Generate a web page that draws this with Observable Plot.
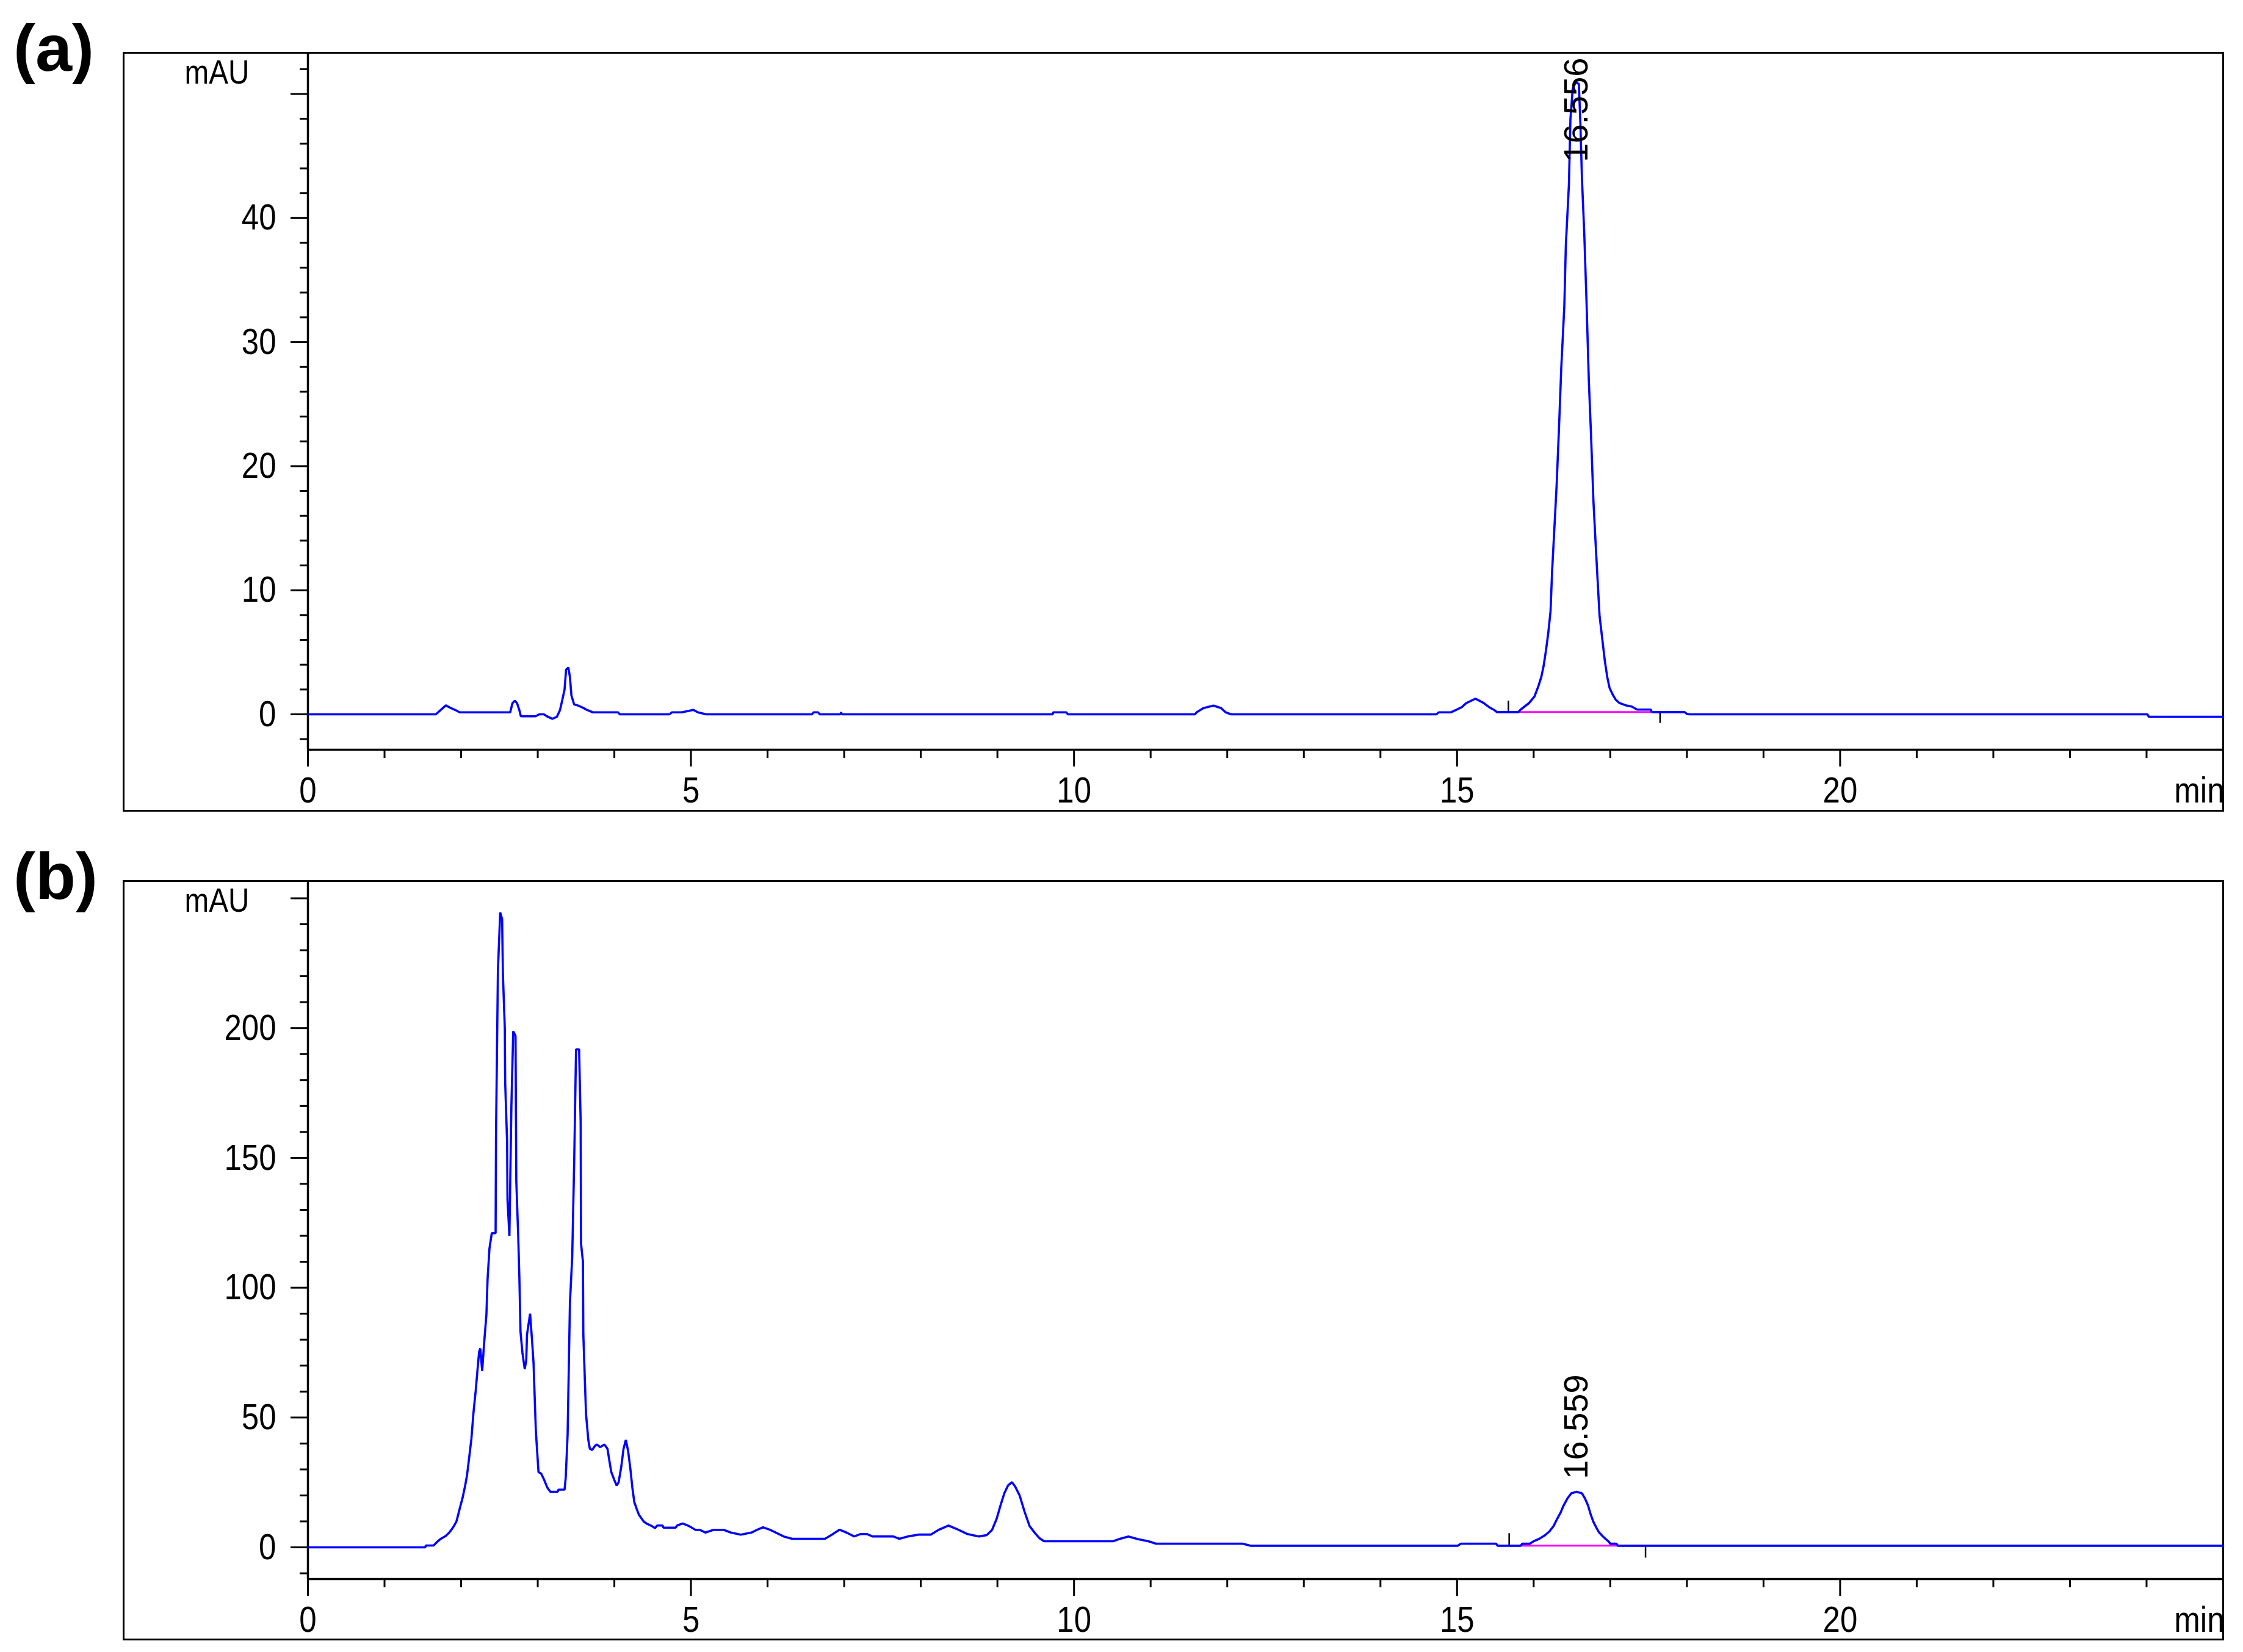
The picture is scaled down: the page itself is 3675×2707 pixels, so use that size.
<!DOCTYPE html>
<html><head><meta charset="utf-8">
<script src="https://cdn.jsdelivr.net/npm/d3@7"></script>
<script src="https://cdn.jsdelivr.net/npm/@observablehq/plot@0.6"></script>
<style>
html,body{margin:0;padding:0;background:#fff;}
#root{position:relative;width:3675px;height:2707px;overflow:hidden;background:#fff;}
.box{position:absolute;border:3px solid #000;box-sizing:border-box;}
.tag{position:absolute;font-family:"Liberation Sans",Arial,sans-serif;font-weight:bold;font-size:108px;line-height:108px;color:#000;}
</style></head><body><div id="root"></div>
<script>
// ---------- Panel (a) chromatogram ----------
const timeA = [0,1.67,1.80,1.86,1.93,1.98,2.64,2.67,2.70,2.73,2.76,2.78,2.97,3.02,3.08,3.12,3.19,3.25,3.29,3.32,3.35,3.37,3.40,3.42,3.44,3.475,3.52,3.58,3.64,3.72,4.05,4.07,4.72,4.75,4.88,5.03,5.09,5.20,6.58,6.60,6.66,6.68,6.95,6.96,6.97,9.72,9.73,9.90,9.92,11.58,11.60,11.69,11.82,11.92,11.98,12.05,14.73,14.76,14.92,14.99,15.06,15.12,15.24,15.35,15.42,15.49,15.52,15.80,15.83,15.94,16.01,16.06,16.10,16.13,16.16,16.19,16.22,16.24,16.27,16.30,16.33,16.36,16.40,16.42,16.46,16.48,16.51,16.55,16.59,16.61,16.63,16.66,16.69,16.72,16.75,16.78,16.81,16.84,16.86,16.90,16.93,16.96,16.99,17.03,17.07,17.12,17.20,17.28,17.35,17.53,17.54,17.97,18.00,18.03,24.01,24.03,25];
const sigA  = [0,0,0.72,0.52,0.33,0.16,0.16,0.9,1.1,0.9,0.33,-0.16,-0.16,0,0,-0.16,-0.36,-0.2,0.33,1.15,2.0,3.6,3.77,3.0,1.5,0.8,0.72,0.56,0.36,0.16,0.16,0,0,0.16,0.16,0.36,0.16,0,0,0.16,0.16,0,0,0.16,0,0,0.16,0.16,0,0,0.16,0.5,0.7,0.5,0.16,0,0,0.16,0.16,0.36,0.57,0.9,1.26,0.9,0.57,0.33,0.18,0.18,0.38,0.91,1.43,2.24,3.02,3.9,5.13,6.53,8.3,11.45,14.96,18.5,23.0,27.9,32.9,37.8,42.7,48.0,50.45,50.95,50.8,47.6,43.2,38.8,33.2,26.9,22.3,17.2,13.6,10.2,7.95,5.83,4.25,3.02,2.14,1.61,1.19,0.91,0.73,0.63,0.38,0.38,0.18,0.18,0.03,0,0,-0.2,-0.2];

// ---------- Panel (b) chromatogram ----------
const timeB = [0,1.53,1.54,1.64,1.68,1.73,1.80,1.845,1.876,1.91,1.94,1.96,1.99,2.02,2.05,2.076,2.10,2.134,2.16,2.19,2.217,2.235,2.25,2.275,2.296,2.33,2.345,2.37,2.40,2.45,2.455,2.48,2.51,2.535,2.545,2.57,2.575,2.60,2.605,2.63,2.656,2.68,2.71,2.72,2.745,2.76,2.775,2.80,2.83,2.85,2.86,2.90,2.925,2.945,2.96,2.975,2.99,3.01,3.045,3.085,3.125,3.165,3.26,3.27,3.35,3.365,3.39,3.42,3.45,3.476,3.50,3.54,3.56,3.565,3.59,3.595,3.63,3.66,3.68,3.71,3.75,3.775,3.815,3.87,3.91,3.935,3.96,4.0,4.03,4.055,4.09,4.12,4.15,4.18,4.21,4.235,4.26,4.29,4.32,4.355,4.385,4.43,4.49,4.53,4.56,4.63,4.64,4.80,4.82,4.89,4.96,5.01,5.06,5.12,5.19,5.29,5.43,5.52,5.65,5.79,5.865,5.94,6.03,6.12,6.21,6.32,6.75,6.84,6.94,7.03,7.13,7.21,7.30,7.37,7.64,7.72,7.83,7.97,8.13,8.23,8.36,8.49,8.61,8.76,8.86,8.93,8.99,9.04,9.09,9.14,9.19,9.23,9.29,9.355,9.42,9.49,9.55,9.61,10.51,10.58,10.71,10.84,10.97,11.07,12.2,12.3,15.01,15.05,15.51,15.53,15.83,15.85,15.95,16.0,16.08,16.15,16.21,16.26,16.30,16.35,16.39,16.44,16.49,16.56,16.63,16.67,16.71,16.745,16.78,16.82,16.85,16.90,16.94,16.98,17.0,17.08,17.1,25];
const sigB  = [0,0,0.7,0.7,1.9,3.2,4.4,5.7,6.9,8.4,10.1,12.4,15.9,19.2,23.4,27.6,33.4,41.8,51.5,60.3,69.5,75.4,76.6,67.9,77.1,89.7,103.2,115.2,121,121,158,222,244.5,242,221,200,179,156,134,120,170,198.8,197,141,120,104,83,75,68.7,72,82,90,80,71,58,45,38,29,28.4,25.9,23.0,21.4,21.4,22.2,22.2,26.8,43.5,94,112,149,191.8,191.8,164,117,110,82,51.4,41.4,38,37.5,39.2,39.6,38.6,39.6,38.0,33.4,29,25.9,23.8,25,31,38,41.4,37,30,23,17.5,14.9,12.6,11.1,9.9,9.0,8.2,7.4,8.4,8.4,7.6,7.6,8.4,9.2,8.4,7.6,6.7,6.7,5.7,6.7,6.7,5.7,4.9,5.7,6.8,7.7,6.8,5.5,4.2,3.3,3.3,4.9,6.8,5.7,4.2,5.1,5.1,4.2,4.2,3.3,4.2,4.9,4.9,6.7,8.4,6.8,5.1,4.2,4.7,6.7,11.0,16.1,20.8,23.9,25.1,23.5,20.0,13.7,8.2,5.5,3.5,2.35,2.35,3.1,4.2,3.1,2.35,1.4,1.4,0.63,0.63,1.4,1.4,0.63,0.63,1.4,1.4,2.35,3.4,4.7,6.3,8.2,10.6,13.3,16.1,18.8,20.8,21.4,20.8,18.8,16.1,12.6,9.8,7.5,5.9,4.3,3.2,2.2,1.4,1.4,0.63,0.63];

// ---------- peak annotations / integration events ----------
const peakLabelsA = ["16.556"], peakTimesA = [16.556], peakLabelYA = [44.5];
const peakLabelsB = ["16.559"], peakTimesB = [16.559], peakLabelYB = [26.3];
const integA = {start: 15.67, end: 17.65, base: 0.18, mark: 0.9};
const integB = {start: 15.68, end: 17.46, base: 0.63, mark: 4.7};

// ---------- axes ----------
const xMajor = [0,5,10,15,20];
const xMinor = [1,2,3,4,6,7,8,9,11,12,13,14,16,17,18,19,21,22,23,24];
const xDomain = [0,25];
const yLabelledA = [0,10,20,30,40], yMajorA = [50];
const yMinorA = [-2,2,4,6,8,12,14,16,18,22,24,26,28,32,34,36,38,42,44,46,48,52];
const yDomainA = [-2.853,53.27];
const yLabelledB = [0,50,100,150,200], yMajorB = [250];
const yMinorB = [-10,10,20,30,40,60,70,80,90,110,120,130,140,160,170,180,190,210,220,230,240];
const yDomainB = [-12.22,256.46];

const FONT = '"Liberation Sans",Arial,sans-serif';
const root = document.getElementById("root");

function panel({top, tag, time, sig, yDomain, yLabelled, yMajor, yMinor, peaks, integ, height, mb}) {
  const box = document.createElement("div");
  box.className = "box";
  Object.assign(box.style, {left: "201px", top: (top - 2) + "px", width: "3443px", height: (height + 3) + "px"});
  root.appendChild(box);

  const t = document.createElement("div");
  t.className = "tag"; t.textContent = tag;
  Object.assign(t.style, {left: "22px", top: (top - 62) + "px"});
  root.appendChild(t);

  const ev = [{t: integ.start, y1: integ.base, y2: integ.base + integ.mark},
              {t: integ.end, y1: integ.base, y2: integ.base - integ.mark}];
  const svg = Plot.plot({
    width: 3438, height, marginLeft: 300, marginRight: 0, marginTop: 0, marginBottom: mb,
    x: {domain: xDomain}, y: {domain: yDomain},
    style: {fontFamily: FONT, fontSize: "60px", color: "#000", background: "transparent", overflow: "visible"},
    marks: [
      Plot.axisY(yLabelled, {tickSize: 28, tickPadding: 24, strokeWidth: 3, label: null, tickFormat: d => String(d)}),
      Plot.axisY(yMajor, {tickSize: 28, strokeWidth: 3, label: null, tickFormat: () => ""}),
      Plot.axisY(yMinor, {tickSize: 13, strokeWidth: 3, label: null, tickFormat: () => ""}),
      Plot.axisX(xMajor, {tickSize: 28, tickPadding: 16, strokeWidth: 3, label: null, tickFormat: d => String(d)}),
      Plot.axisX(xMinor, {tickSize: 14, strokeWidth: 3, label: null, tickFormat: () => ""}),
      Plot.ruleX([xDomain[0]], {strokeWidth: 3.5}),
      Plot.ruleY([yDomain[0]], {strokeWidth: 3.5}),
      Plot.link([integ], {x1: "start", x2: "end", y1: "base", y2: "base", stroke: "#ff00ff", strokeWidth: 3}),
      Plot.ruleX(ev, {x: "t", y1: "y1", y2: "y2", stroke: "#000", strokeWidth: 2.5}),
      Plot.line(sig, {x: time, y: sig, stroke: "#0000ff", strokeWidth: 3.6, strokeLinejoin: "miter"}),
      Plot.text(peaks.labels, {x: peaks.times, y: peaks.ys, text: peaks.labels, rotate: -90, textAnchor: "start", lineAnchor: "middle", fontSize: 56, fill: "#000"}),
      Plot.text(["mAU"], {frameAnchor: "top-left", dx: -149, dy: 10, textAnchor: "middle", lineAnchor: "top", fontSize: 56, fill: "#000"}),
      Plot.text(["min"], {frameAnchor: "bottom-right", dx: 2, dy: 44, textAnchor: "end", lineAnchor: "top", fontSize: 60, fill: "#000"})
    ]
  });
  svg.style.position = "absolute";
  svg.style.left = "204px";
  svg.style.top = top + "px";
  root.appendChild(svg);
  // condense the horizontal labels (reference uses a narrow face) without moving them
  d3.select(svg).selectAll("text").each(function() {
    const tr = this.getAttribute("transform") || "";
    if (tr.includes("rotate")) return;
    const L = this.getComputedTextLength();
    if (L > 0) {
      this.setAttribute("textLength", (L * 0.85).toFixed(1));
      this.setAttribute("lengthAdjust", "spacingAndGlyphs");
    }
  });
}

panel({top: 87, tag: "(a)", time: timeA, sig: sigA, yDomain: yDomainA, yLabelled: yLabelledA, yMajor: yMajorA, yMinor: yMinorA,
  peaks: {labels: peakLabelsA, times: peakTimesA, ys: peakLabelYA}, integ: integA, height: 1242, mb: 101});
panel({top: 1444, tag: "(b)", time: timeB, sig: sigB, yDomain: yDomainB, yLabelled: yLabelledB, yMajor: yMajorB, yMinor: yMinorB,
  peaks: {labels: peakLabelsB, times: peakTimesB, ys: peakLabelYB}, integ: integB, height: 1243, mb: 100});
</script></body></html>
